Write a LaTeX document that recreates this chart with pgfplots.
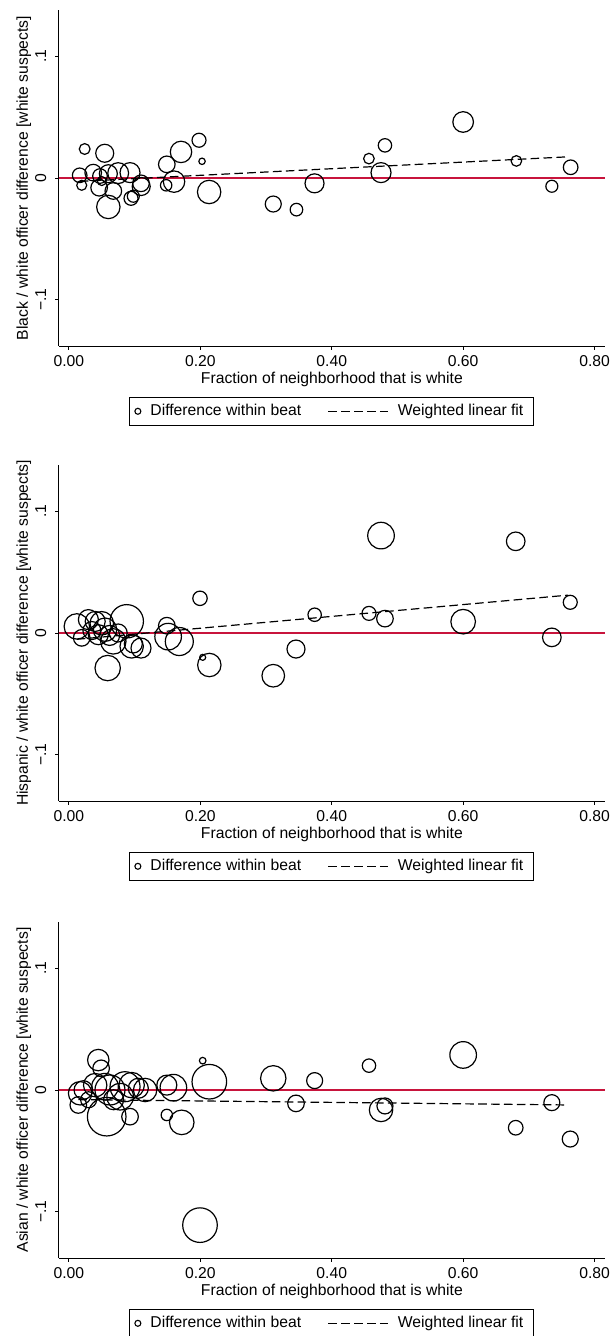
\documentclass[border=0pt]{standalone}
\usepackage{pgfplots}
\pgfplotsset{compat=1.18}
\usepackage{fontspec}
\setmainfont{Liberation Sans}
\definecolor{zeroline}{RGB}{200,20,60}
\pgfplotsset{
  panel/.style={
    scale only axis, width=273.1pt, height=168pt,
    xmin=-0.0154, xmax=0.8159, ymin=-0.138, ymax=0.138,
    axis x line=bottom, axis y line=left,
    axis line style={-, line width=0.45pt, black},
    xtick={0,0.2,0.4,0.6,0.8}, xticklabels={0.00,0.20,0.40,0.60,0.80},
    ytick={-0.1,0,0.1}, yticklabels={−.1,0,.1},
    yticklabel style={xshift=-4.5pt, rotate=90, anchor=base},
    xticklabel style={yshift=-8.3pt, anchor=base},
    tick align=outside, major tick length=1.8pt,
    tick style={line width=0.45pt, black},
    minor tick num=0,
    xlabel={Fraction of neighborhood that is white},
    xlabel style={at={(axis description cs:0.5,-0.1128)}, anchor=base},
    ylabel style={at={(axis description cs:-0.0564,0.5)}, anchor=base, rotate=0},
    legend columns=2,
    legend cell align=left,
    legend style={at={(axis description cs:0.5,-0.152)}, anchor=north,
      draw=black, line width=0.45pt, inner xsep=1.5pt, inner ysep=1.5pt,
      nodes={inner sep=1.8pt},
      /tikz/every even column/.append style={column sep=11.5pt}},
  },
  bubbles/.style={scatter, only marks, mark=o, line width=0.6pt,
    scatter/use mapped color={draw=black},
    visualization depends on={\thisrow{r} \as \bubr},
    scatter/@pre marker code/.append style={/tikz/mark size=\bubr},
    legend image code/.code={\path[draw=none] (0,0) -- (7pt,0); \draw[black, solid, line width=0.55pt] (2.5pt,0) circle (1.5pt);}},
  fitline/.style={black, line width=0.6pt, dash pattern=on 4.3pt off 2.15pt,
    legend image code/.code={\path[draw=none] (0,0) -- (33pt,0); \draw[black, line width=0.6pt, dash pattern=on 4.3pt off 2.15pt] (0,0) -- (30pt,0);}},
  zero/.style={zeroline, line width=0.6pt, forget plot},
}
\begin{document}
\begin{tikzpicture}[font=\fontsize{7.85}{9.4}\selectfont]
\useasboundingbox (0,0) rectangle (307pt,668pt);
% Panel 1
\begin{axis}[panel, at={(29.4pt,495pt)}, anchor=south west,
  ylabel={Black / white officer difference [white suspects]}]
\addplot[zero] coordinates {(-0.0154,0) (0.8159,0)};
\addplot[bubbles] table {
x y r
0.0164 0.0022 3.65
0.0195 -0.0060 2.5
0.0240 0.0238 2.7
0.0370 0.0044 4.15
0.0473 0.0016 3.65
0.0500 -0.0025 2.25
0.0460 -0.0080 4.15
0.0545 0.0203 4.5
0.0600 -0.0238 5.85
0.0600 0.0035 4.5
0.0676 -0.0107 4.15
0.0750 0.0040 5.2
0.0930 0.0044 5.0
0.0945 -0.0167 3.5
0.0980 -0.0150 3.0
0.1097 -0.0044 4.15
0.1100 -0.0070 4.5
0.1480 -0.0060 2.85
0.1490 0.0112 4.15
0.1600 -0.0030 5.35
0.1706 0.0214 5.35
0.1980 0.0310 3.5
0.2026 0.0137 1.6
0.2134 -0.0115 5.85
0.3110 -0.0214 4.0
0.3463 -0.0260 3.15
0.3738 -0.0044 4.75
0.4566 0.0159 2.65
0.4810 0.0268 3.35
0.4750 0.0044 5.0
0.6000 0.0460 5.15
0.6810 0.0140 2.65
0.7350 -0.0068 3.0
0.7636 0.0088 3.65
};
\addplot[fitline] coordinates {(0.0164,-0.0028) (0.7600,0.0174)};
\legend{Difference within beat, Weighted linear fit\kern2pt}
\end{axis}
% Panel 2
\begin{axis}[panel, at={(29.4pt,267.5pt)}, anchor=south west,
  ylabel={Hispanic / white officer difference [white suspects]}]
\addplot[zero] coordinates {(-0.0154,0) (0.8159,0)};
\addplot[bubbles] table {
x y r
0.0120 0.0054 6.35
0.0195 -0.0040 4.15
0.0296 0.0110 5.0
0.0350 0.0020 4.5
0.0400 0.0095 5.0
0.0447 -0.0014 5.0
0.0500 0.0080 5.85
0.0550 0.0027 5.85
0.0590 -0.0288 6.35
0.0620 -0.0020 5.0
0.0676 -0.0069 6.35
0.0750 0.0000 4.5
0.0880 0.0096 8.35
0.0955 -0.0110 5.85
0.0980 -0.0090 4.5
0.1097 -0.0124 5.0
0.1490 0.0060 4.15
0.1510 -0.0030 6.65
0.1680 -0.0070 7.0
0.1995 0.0285 3.6
0.2036 -0.0200 1.5
0.2137 -0.0263 5.85
0.3110 -0.0351 5.65
0.3456 -0.0132 4.5
0.3740 0.0150 3.35
0.4567 0.0161 3.5
0.4750 0.0800 6.65
0.4810 0.0118 4.15
0.6000 0.0093 6.15
0.6800 0.0753 4.65
0.7350 -0.0036 4.65
0.7630 0.0252 3.5
};
\addplot[fitline] coordinates {(0.0120,-0.0052) (0.7600,0.0311)};
\legend{Difference within beat, Weighted linear fit\kern2pt}
\end{axis}
% Panel 3
\begin{axis}[panel, at={(29.4pt,39pt)}, anchor=south west,
  ylabel={Asian / white officer difference [white suspects]}]
\addplot[zero] coordinates {(-0.0154,0) (0.8159,0)};
\addplot[bubbles] table {
x y r
0.0143 -0.0123 4.15
0.0170 -0.0027 5.85
0.0220 0.0000 4.65
0.0300 -0.0080 4.0
0.0400 0.0040 5.85
0.0447 0.0246 5.35
0.0490 0.0178 4.15
0.0550 0.0027 6.65
0.0575 -0.0219 9.65
0.0625 0.0000 7.5
0.0680 -0.0080 5.0
0.0780 -0.0055 6.65
0.0854 0.0027 7.5
0.0930 -0.0219 4.15
0.0955 0.0040 6.35
0.1056 0.0014 5.0
0.1160 0.0000 5.85
0.1490 0.0040 5.0
0.1590 0.0019 6.65
0.1490 -0.0205 2.85
0.1717 -0.0266 6.15
0.1995 -0.1110 8.65
0.2036 0.0241 1.65
0.2137 0.0068 8.65
0.3110 0.0096 6.35
0.3456 -0.0110 4.15
0.3740 0.0077 4.0
0.4567 0.0200 3.35
0.4750 -0.0164 5.85
0.4810 -0.0131 4.0
0.6000 0.0288 6.65
0.6800 -0.0310 3.65
0.7350 -0.0104 4.0
0.7630 -0.0403 4.0
};
\addplot[fitline] coordinates {(0.0143,-0.0079) (0.7600,-0.0123)};
\legend{Difference within beat, Weighted linear fit\kern2pt}
\end{axis}
\end{tikzpicture}
\end{document}
